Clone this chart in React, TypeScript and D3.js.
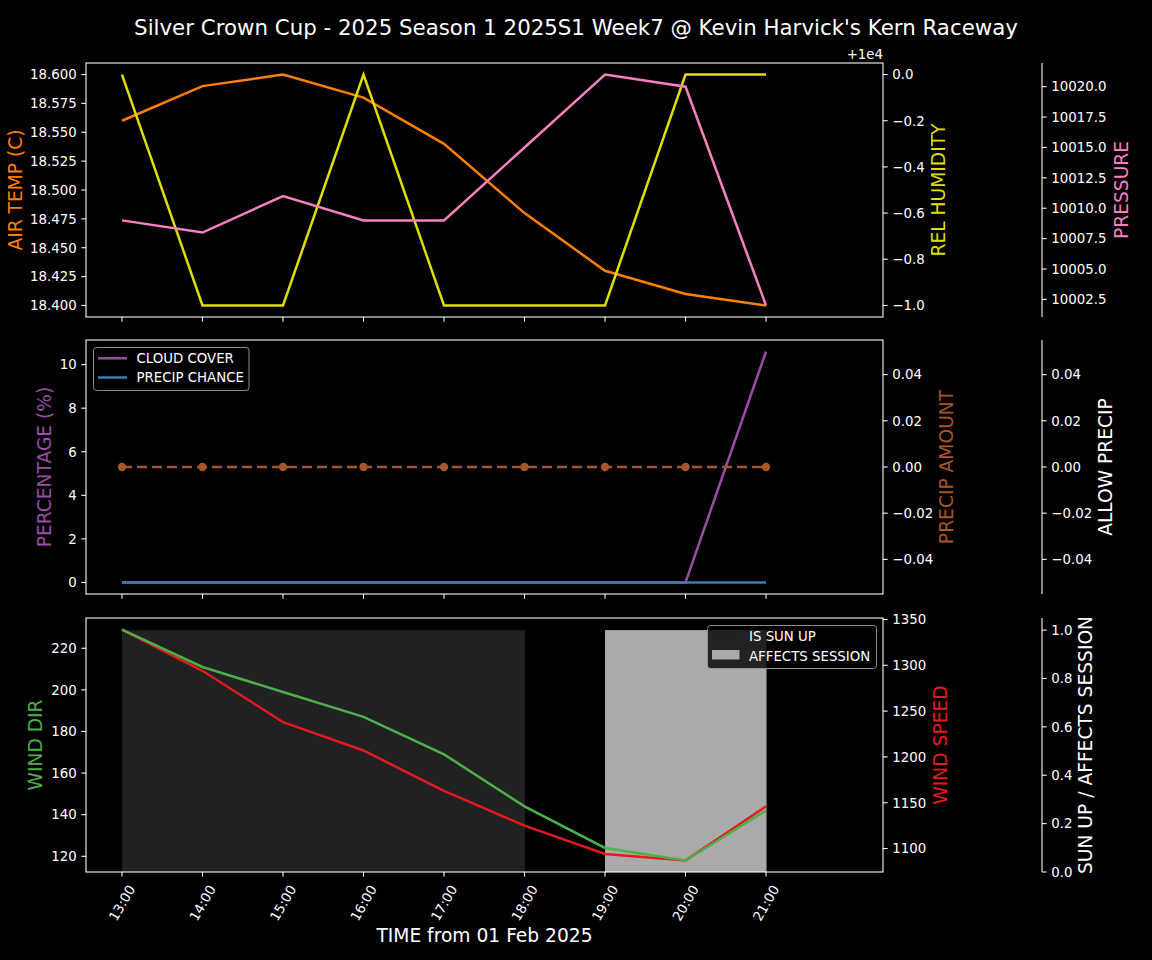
import React from "react";
import * as d3 from "d3";

const HOURS = ["13:00", "14:00", "15:00", "16:00", "17:00", "18:00", "19:00", "20:00", "21:00"];
const airTemp = [18.56, 18.59, 18.6, 18.58, 18.54, 18.48, 18.43, 18.41, 18.4];
const relHumidity = [10000, 9999, 9999, 10000, 9999, 9999, 9999, 10000, 10000];
const pressure = [10009, 10008, 10011, 10009, 10009, 10015, 10021, 10020, 10002];
const cloudCover = [0, 0, 0, 0, 0, 0, 0, 0, 10.6];
const precipChance = [0, 0, 0, 0, 0, 0, 0, 0, 0];
const precipAmount = [0, 0, 0, 0, 0, 0, 0, 0, 0];
const windDir = [229, 211, 199, 187, 169, 144, 124, 118, 142];
const windSpeed = [1339, 1294, 1238, 1207, 1163, 1125, 1094, 1087, 1146];
const sunUp = [1, 1, 1, 1, 1, 0, 0, 0, 0];
const affectsSession = [0, 0, 0, 0, 0, 0, 1, 1, 0];

const tempTicks = [18.4, 18.425, 18.45, 18.475, 18.5, 18.525, 18.55, 18.575, 18.6];
const humTicks = [9999, 9999.2, 9999.4, 9999.6, 9999.8, 10000];
const presTicks = [10002.5, 10005, 10007.5, 10010, 10012.5, 10015, 10017.5, 10020];
const pctTicks = [0, 2, 4, 6, 8, 10];
const amtTicks = [-0.04, -0.02, 0, 0.02, 0.04];
const dirTicks = [120, 140, 160, 180, 200, 220];
const spdTicks = [1100, 1150, 1200, 1250, 1300, 1350];
const sunTicks = [0, 0.2, 0.4, 0.6, 0.8, 1.0];

const TITLE = "Silver Crown Cup - 2025 Season 1 2025S1 Week7 @ Kevin Harvick's Kern Raceway";

const FONT = "DejaVu Sans, Verdana, sans-serif";
const L = 86, R = 883, S3 = 1042;
const PANELS = [
  { top: 63, bottom: 317 },
  { top: 340, bottom: 594 },
  { top: 618, bottom: 872 },
];
const TL = 4.67;
const TICK_FS = 13.33;
const LABEL_FS = 18.67;

const C = {
  temp: "#ff7f00",
  hum: "#dede00",
  pres: "#f781bf",
  cloud: "#984ea3",
  chance: "#377eb8",
  amt: "#a65628",
  dir: "#4daf4a",
  spd: "#e41a1c",
  sun: "#212121",
  sess: "#aaaaaa",
};

function pad(vals: number[]): [number, number] {
  const [a, b] = d3.extent(vals) as [number, number];
  if (a === b) return [a - 0.055, a + 0.055];
  const m = (b - a) * 0.05;
  return [a - m, b + m];
}

const idx = HOURS.map((_, i) => i);
const x = d3.scaleLinear().domain([-0.447, 9.453]).range([L, R]);

function LeftAxis({ scale, ticks, fmt }: any) {
  return (
    <g>
      {ticks.map((t: number, i: number) => (
        <g key={i}>
          <line x1={L - TL} x2={L} y1={scale(t)} y2={scale(t)} stroke="#fff" strokeWidth={1.07} />
          <text x={L - TL - 4.67} y={scale(t)} dy="0.36em" textAnchor="end" fill="#fff" fontSize={TICK_FS} fontFamily={FONT}>
            {fmt(t)}
          </text>
        </g>
      ))}
    </g>
  );
}

function RightAxis({ scale, ticks, fmt, at }: any) {
  return (
    <g>
      {ticks.map((t: number, i: number) => (
        <g key={i}>
          <line x1={at} x2={at + TL} y1={scale(t)} y2={scale(t)} stroke="#fff" strokeWidth={1.07} />
          <text x={at + TL + 4.67} y={scale(t)} dy="0.36em" textAnchor="start" fill="#fff" fontSize={TICK_FS} fontFamily={FONT}>
            {fmt(t)}
          </text>
        </g>
      ))}
    </g>
  );
}

function VLabel({ x: bx, y, text, color }: any) {
  return (
    <text transform={`translate(${bx},${y}) rotate(-90)`} textAnchor="middle" fill={color} fontSize={LABEL_FS} fontFamily={FONT}>
      {text}
    </text>
  );
}

function Frame({ p, withLabels }: any) {
  return (
    <g>
      <rect x={L} y={p.top} width={R - L} height={p.bottom - p.top} fill="none" stroke="#fff" strokeWidth={1.07} />
      <line x1={S3} x2={S3} y1={p.top} y2={p.bottom} stroke="#fff" strokeWidth={1.07} />
      {idx.map((i) => (
        <line key={i} x1={x(i)} x2={x(i)} y1={p.bottom} y2={p.bottom + TL} stroke="#fff" strokeWidth={1.07} />
      ))}
      {withLabels &&
        idx.map((i) => (
          <text
            key={"l" + i}
            transform={`translate(${x(i)},${p.bottom + 31}) rotate(-60)`}
            textAnchor="middle"
            dy="0.36em"
            fill="#fff"
            fontSize={TICK_FS}
            fontFamily={FONT}
          >
            {HOURS[i]}
          </text>
        ))}
    </g>
  );
}

function linePath(vals: number[], ys: any) {
  return d3
    .line<number>()
    .x((_, i) => x(i))
    .y((v) => ys(v))(vals) as string;
}

export default function App() {
  const [p1, p2, p3] = PANELS;

  const yTemp = d3.scaleLinear().domain(pad(airTemp)).range([p1.bottom, p1.top]);
  const yHum = d3.scaleLinear().domain(pad(relHumidity)).range([p1.bottom, p1.top]);
  const yPres = d3.scaleLinear().domain(pad(pressure)).range([p1.bottom, p1.top]);

  const yPct = d3.scaleLinear().domain(pad([...cloudCover, ...precipChance])).range([p2.bottom, p2.top]);
  const yAmt = d3.scaleLinear().domain(pad(precipAmount)).range([p2.bottom, p2.top]);

  const yDir = d3.scaleLinear().domain(pad(windDir)).range([p3.bottom, p3.top]);
  const ySpd = d3.scaleLinear().domain(pad(windSpeed)).range([p3.bottom, p3.top]);
  const ySun = d3.scaleLinear().domain([0, 1.05]).range([p3.bottom, p3.top]);

  const f3 = d3.format(".3f");
  const f1 = d3.format(".1f");
  const f2 = d3.format(".2f");
  const f0 = d3.format("d");
  const fHum = (t: number) => d3.format(".1f")(t - 10000);

  return (
    <svg width={1152} height={960} style={{ position: "absolute", left: 0, top: 0, background: "#000" }}>
      <rect x={0} y={0} width={1152} height={960} fill="#000" />
      <text x={576} y={35} textAnchor="middle" fill="#fff" fontSize={21.33} fontFamily={FONT}>
        {TITLE}
      </text>

      {/* Panel 1 */}
      <g>
        <path d={linePath(airTemp, yTemp)} fill="none" stroke={C.temp} strokeWidth={2.5} />
        <path d={linePath(relHumidity, yHum)} fill="none" stroke={C.hum} strokeWidth={2.5} />
        <path d={linePath(pressure, yPres)} fill="none" stroke={C.pres} strokeWidth={2.5} />
        <Frame p={p1} />
        <LeftAxis scale={yTemp} ticks={tempTicks} fmt={f3} />
        <RightAxis scale={yHum} ticks={humTicks} fmt={fHum} at={R} />
        <RightAxis scale={yPres} ticks={presTicks} fmt={f1} at={S3} />
        <text x={R} y={59} textAnchor="end" fill="#fff" fontSize={TICK_FS} fontFamily={FONT}>+1e4</text>
        <VLabel x={21.5} y={(p1.top + p1.bottom) / 2} text="AIR TEMP (C)" color={C.temp} />
        <VLabel x={945} y={(p1.top + p1.bottom) / 2} text="REL HUMIDITY" color={C.hum} />
        <VLabel x={1128} y={(p1.top + p1.bottom) / 2} text="PRESSURE" color={C.pres} />
      </g>

      {/* Panel 2 */}
      <g>
        <path d={linePath(cloudCover, yPct)} fill="none" stroke={C.cloud} strokeWidth={2.5} />
        <path d={linePath(precipChance, yPct)} fill="none" stroke={C.chance} strokeWidth={2.5} />
        <path d={linePath(precipAmount, yAmt)} fill="none" stroke={C.amt} strokeWidth={2.5} strokeDasharray="10,5" />
        {precipAmount.map((v, i) => (
          <circle key={i} cx={x(i)} cy={yAmt(v)} r={4.2} fill={C.amt} />
        ))}
        <Frame p={p2} />
        <LeftAxis scale={yPct} ticks={pctTicks} fmt={f0} />
        <RightAxis scale={yAmt} ticks={amtTicks} fmt={f2} at={R} />
        <RightAxis scale={yAmt} ticks={amtTicks} fmt={f2} at={S3} />
        <VLabel x={50.5} y={(p2.top + p2.bottom) / 2} text="PERCENTAGE (%)" color={C.cloud} />
        <VLabel x={953} y={(p2.top + p2.bottom) / 2} text="PRECIP AMOUNT" color={C.amt} />
        <VLabel x={1112} y={(p2.top + p2.bottom) / 2} text="ALLOW PRECIP" color="#fff" />
        <g>
          <rect x={93.5} y={347.5} width={155.5} height={43} rx={3} fill="#000" fillOpacity={0.8} stroke="#999" strokeOpacity={0.9} strokeWidth={1} />
          <line x1={98} x2={127} y1={358.3} y2={358.3} stroke={C.cloud} strokeWidth={2.5} />
          <line x1={98} x2={127} y1={377.5} y2={377.5} stroke={C.chance} strokeWidth={2.5} />
          <text x={136.5} y={362.5} fill="#fff" fontSize={TICK_FS} fontFamily={FONT}>CLOUD COVER</text>
          <text x={136.5} y={381.8} fill="#fff" fontSize={TICK_FS} fontFamily={FONT}>PRECIP CHANCE</text>
        </g>
      </g>

      {/* Panel 3 */}
      <g>
        {sunUp.map((v, i) =>
          v ? (
            <rect key={"s" + i} x={x(i)} y={ySun(v)} width={x(i + 1) - x(i) + 0.5} height={ySun(0) - ySun(v)} fill={C.sun} />
          ) : null
        )}
        {affectsSession.map((v, i) =>
          v ? (
            <rect key={"a" + i} x={x(i)} y={ySun(v)} width={x(i + 1) - x(i) + 0.5} height={ySun(0) - ySun(v)} fill={C.sess} />
          ) : null
        )}
        <path d={linePath(windSpeed, ySpd)} fill="none" stroke={C.spd} strokeWidth={2.5} />
        <path d={linePath(windDir, yDir)} fill="none" stroke={C.dir} strokeWidth={2.5} />
        <Frame p={p3} withLabels />
        <LeftAxis scale={yDir} ticks={dirTicks} fmt={f0} />
        <RightAxis scale={ySpd} ticks={spdTicks} fmt={f0} at={R} />
        <RightAxis scale={ySun} ticks={sunTicks} fmt={f1} at={S3} />
        <VLabel x={42} y={(p3.top + p3.bottom) / 2} text="WIND DIR" color={C.dir} />
        <VLabel x={947} y={(p3.top + p3.bottom) / 2} text="WIND SPEED" color={C.spd} />
        <VLabel x={1092} y={(p3.top + p3.bottom) / 2} text="SUN UP / AFFECTS SESSION" color="#fff" />
        <g>
          <rect x={707.5} y={625.5} width={169} height={43} rx={3} fill="#000" fillOpacity={0.8} stroke="#999" strokeOpacity={0.9} strokeWidth={1} />
          <rect x={712} y={631} width={27.5} height={9.5} fill={C.sun} />
          <rect x={712} y={650} width={27.5} height={9.5} fill={C.sess} />
          <text x={749} y={641} fill="#fff" fontSize={TICK_FS} fontFamily={FONT}>IS SUN UP</text>
          <text x={749} y={660.5} fill="#fff" fontSize={TICK_FS} fontFamily={FONT}>AFFECTS SESSION</text>
        </g>
        <text x={(L + R) / 2} y={942} textAnchor="middle" fill="#fff" fontSize={LABEL_FS} fontFamily={FONT}>
          TIME from 01 Feb 2025
        </text>
      </g>
    </svg>
  );
}
